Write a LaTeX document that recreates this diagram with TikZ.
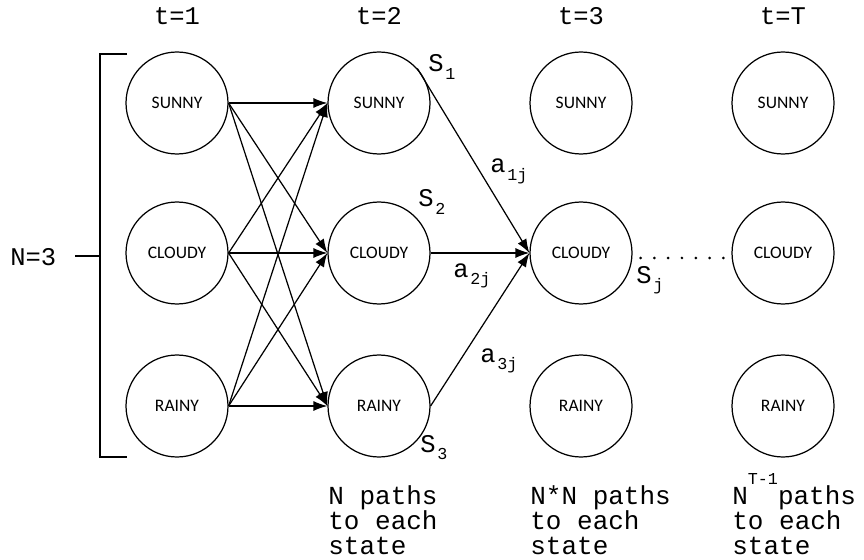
\documentclass[tikz,border=0pt]{standalone}
\usepackage{fontspec}
\usepackage{tikz}
\usetikzlibrary{arrows.meta}
\setmainfont{Liberation Mono}
\newfontfamily\cirfont{Carlito}
\newcommand{\lowsub}[2]{#1\hspace{1pt}\raisebox{-4pt}{\fontsize{9.5}{9.5}\selectfont #2}}

\begin{document}
\begin{tikzpicture}[x=0.02cm,y=-0.02cm,
        state/.style={draw,circle,line width=0.7pt,minimum size=2.04cm,inner sep=0pt,
            font=\cirfont\fontsize{10}{11}\selectfont},
        arr/.style={line width=0.7pt,-{Latex[length=2.8mm,width=2mm]}},
        lbl/.style={anchor=base west,inner sep=0pt,font=\fontsize{14.5}{14.2}\selectfont},
        note/.style={anchor=north west,align=left,inner sep=0pt,font=\fontsize{14.8}{14.3}\selectfont},
        dotline/.style={line width=1.7pt,line cap=round,dash pattern=on 0pt off 7.85pt,
            shorten <=0.16cm,shorten >=0.1cm}]
                \useasboundingbox (0,0) rectangle (864,560);
                % states, one column per time step
                \foreach \x/\c in {177/1,379/2,581/3,783/4} {
                    \node[state] (sun\c) at (\x,103) {SUNNY};
                    \node[state] (cld\c) at (\x,253) {CLOUDY};
                    \node[state] (rny\c) at (\x,406) {RAINY};
                }
                \foreach \x/\t in {177/1,379/2,581/3,783/T}
                \node[lbl,anchor=base] (t\t) at (\x,25) {t=\t};
                % all transitions t=1 -> t=2
                \foreach \a in {sun1,cld1,rny1}
                \foreach \b in {sun2,cld2,rny2}
                \draw[arr] (\a.east) -- (\b.west);
                % paths into state j
                \draw[arr] (sun2.42) -- (cld3.west);
                \draw[arr] (cld2.east) -- (cld3.west);
                \draw[arr] (rny2.east) -- (cld3.west);
                \draw[dotline] ([yshift=-0.1cm]cld3.east) -- ([yshift=-0.1cm]cld4.west);
                \node[lbl] (s1) at (428,72) {\lowsub{S}{1}};
                \node[lbl] (s2) at (418,207) {\lowsub{S}{2}};
                \node[lbl] (s3) at (420,452) {\lowsub{S}{3}};
                \node[lbl] (sj) at (636,283) {\lowsub{S}{j}};
                \node[lbl] (a1) at (490,173) {\lowsub{a}{1j}};
                \node[lbl] (a2) at (453,277) {\lowsub{a}{2j}};
                \node[lbl] (a3) at (480,362) {\lowsub{a}{3j}};
                % bracket over the N states
                \node[lbl] (n3) at (10,265) {N=3};
                \draw[line width=0.7pt] (127,54) -- (100,54) -- (100,457) -- (127,457);
                \draw[line width=0.7pt] (75,256) -- (100,256);
                % number of paths
                \node[note] (p2) at (328,485) {N paths\\to each\\state};
                \node[note] (p3) at (530,485) {N*N paths\\to each\\state};
                \node[note] (p4) at (732,485)
                    {N\raisebox{11pt}[0pt][0pt]{\fontsize{9.5}{9.5}\selectfont T-1}paths\\to each\\state};
            \end{tikzpicture}
\end{document}
